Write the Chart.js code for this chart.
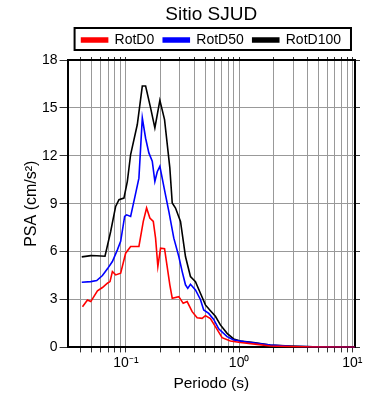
<!DOCTYPE html>
<html><head><meta charset="utf-8">
<script src="https://cdn.jsdelivr.net/npm/chart.js@4.4.0/dist/chart.umd.min.js"></script>
<style>html,body{margin:0;padding:0;background:#fff}</style>
</head><body>
<canvas id="c" width="390" height="400"></canvas>
<script>
// ---- data ----
const periodsD0 = [0.0413,0.0457,0.0489,0.056,0.062,0.0686,0.0723,0.0759,0.0811,0.0898,0.0994,0.110,0.1302,0.1423,0.1522,0.1627,0.1744,0.1827,0.1914,0.2022,0.2193,0.2442,0.2564,0.2931,0.3204,0.3475,0.3846,0.4256,0.471,0.5037,0.5576,0.6171,0.7069,0.8368,1.025,1.438,1.883,2.826,4.506,10.5];
const rotD0 = [2.55,2.97,2.87,3.54,3.75,4.02,4.12,4.75,4.54,4.65,5.9,6.32,6.32,7.89,8.73,8.1,7.89,6.84,5.07,6.21,6.18,3.92,3.08,3.18,2.76,2.87,2.24,1.86,1.82,1.99,1.8,1.3,0.61,0.40,0.31,0.19,0.09,0.05,0.02,0.01];

const periodsD50 = [0.0407,0.0489,0.0552,0.062,0.0686,0.0759,0.084,0.0898,0.0974,0.1014,0.110,0.1193,0.1302,0.1395,0.1492,0.1594,0.1708,0.1801,0.1891,0.1994,0.2193,0.2393,0.2648,0.2931,0.314,0.3357,0.3518,0.3715,0.4113,0.455,0.4864,0.5386,0.5962,0.6598,0.7826,0.8946,1.096,1.538,1.883,2.826,4.506,10.5];
const rotD50 = [4.08,4.12,4.19,4.5,4.92,5.38,6.11,6.64,8.2,8.3,8.2,9.35,10.6,14.37,13.1,12.18,11.66,10.4,11.0,11.34,9.85,8.52,6.84,5.69,4.75,3.92,3.7,3.95,3.6,3.0,2.35,2.13,1.75,1.16,0.67,0.46,0.36,0.23,0.15,0.07,0.03,0.01];

const periodsD100 = [0.0407,0.0489,0.0552,0.0653,0.0733,0.0811,0.0868,0.096,0.1029,0.110,0.126,0.1395,0.1492,0.1651,0.1801,0.1994,0.2193,0.2442,0.2564,0.2741,0.3034,0.3357,0.3715,0.4113,0.455,0.5037,0.5576,0.6171,0.683,0.7826,0.8946,1.025,1.342,1.883,2.826,4.506,10.5];
const rotD100 = [5.67,5.75,5.74,5.71,7.26,8.83,9.25,9.35,10.4,12.08,13.96,16.37,16.37,15.0,13.75,15.47,14.27,11.24,9.04,8.73,7.89,5.69,4.44,4.12,3.39,2.66,2.3,1.95,1.41,0.88,0.53,0.40,0.31,0.15,0.09,0.04,0.02];

const seriesNames = ['RotD0','RotD50','RotD100'];
const xTickValues = [0.04,0.05,0.06,0.07,0.08,0.09,0.1,0.2,0.3,0.4,0.5,0.6,0.7,0.8,0.9,1,2,3,4,5,6,7,8,9,10];
const xTickLabels = {0.1:'10⁻¹', 1:'10⁰', 10:'10¹'};
const yTickStep = 3;
const titleText = 'Sitio SJUD';
const xTitle = 'Periodo (s)';
const yTitle = 'PSA (cm/s²)';

// ---- chart ----
Chart.defaults.font.family = '"Liberation Sans", Arial, Helvetica, sans-serif';
Chart.defaults.color = '#000';

const toPts = (xs, ys) => xs.map((x, i) => ({x: x, y: ys[i]}));
const colors = ['#ff0000', '#0000ff', '#000000'];

const legendBox = {
  id: 'legendBox',
  afterDraw(chart) {
    const lg = chart.legend;
    if (!lg || !lg.legendHitBoxes || !lg.legendHitBoxes.length) return;
    const hb = lg.legendHitBoxes;
    let l = Infinity, r = -Infinity, t = Infinity, b = -Infinity;
    hb.forEach(h => { l = Math.min(l, h.left); r = Math.max(r, h.left + h.width); t = Math.min(t, h.top); b = Math.max(b, h.top + h.height); });
    const ctx = chart.ctx;
    ctx.save();
    ctx.strokeStyle = '#000';
    ctx.lineWidth = 2;
    ctx.strokeRect(l - 7, t - 5, (r - l) + 17, (b - t) + 8);
    ctx.restore();
  }
};

const setTicks = s => { s.ticks = xTickValues.map(v => ({value: v})); };

new Chart(document.getElementById('c'), {
  type: 'line',
  data: {
    datasets: [
      {label: seriesNames[0], data: toPts(periodsD0, rotD0), borderColor: colors[0], backgroundColor: colors[0]},
      {label: seriesNames[1], data: toPts(periodsD50, rotD50), borderColor: colors[1], backgroundColor: colors[1]},
      {label: seriesNames[2], data: toPts(periodsD100, rotD100), borderColor: colors[2], backgroundColor: colors[2]}
    ]
  },
  options: {
    responsive: false,
    animation: false,
    devicePixelRatio: 1,
    elements: {line: {borderWidth: 1.6, tension: 0}, point: {radius: 0}},
    layout: {padding: {left: 24, right: 30, top: 2, bottom: 7}},
    plugins: {
      title: {display: true, text: titleText, fullSize: false, font: {size: 19, weight: 'normal', lineHeight: 1}, color: '#000', padding: {top: 3, bottom: 0}},
      legend: {
        display: true, fullSize: false, position: 'top',
        labels: {boxWidth: 26, boxHeight: 4, font: {size: 14}, color: '#000', padding: 9}
      },
      tooltip: {enabled: false}
    },
    scales: {
      x: {
        type: 'logarithmic', position: 'bottom', min: 0.0305, max: 10.56,
        afterBuildTicks: setTicks,
        ticks: {autoSkip: false, maxRotation: 0, font: {size: 14, lineHeight: 1}, color: '#000', padding: 4,
          callback: v => xTickLabels[v] || ''},
        grid: {color: '#999', lineWidth: 1, tickLength: 5, tickColor: '#333'},
        border: {color: '#000', width: 2},
        title: {display: true, text: xTitle, font: {size: 15.5}, color: '#000', padding: {top: 0, bottom: 0}}
      },
      x2: {
        type: 'logarithmic', position: 'top', min: 0.0305, max: 10.56,
        afterBuildTicks: setTicks,
        ticks: {display: false},
        grid: {drawOnChartArea: false, tickLength: 3, tickColor: '#333'},
        border: {color: '#000', width: 2}
      },
      y: {
        type: 'linear', position: 'left', min: 0, max: 18,
        ticks: {stepSize: yTickStep, font: {size: 14}, color: '#000', padding: 2},
        grid: {color: '#999', lineWidth: 1, tickLength: 8, tickColor: '#333'},
        border: {color: '#000', width: 2},
        title: {display: true, text: yTitle, font: {size: 16, lineHeight: 1}, color: '#000', padding: {top: 0, bottom: 0}}
      },
      y2: {
        type: 'linear', position: 'right', min: 0, max: 18,
        ticks: {display: false, stepSize: yTickStep},
        grid: {drawOnChartArea: false, tickLength: 5, tickColor: '#333'},
        border: {color: '#000', width: 2}
      }
    }
  },
  plugins: [legendBox]
});
</script>
</body></html>
